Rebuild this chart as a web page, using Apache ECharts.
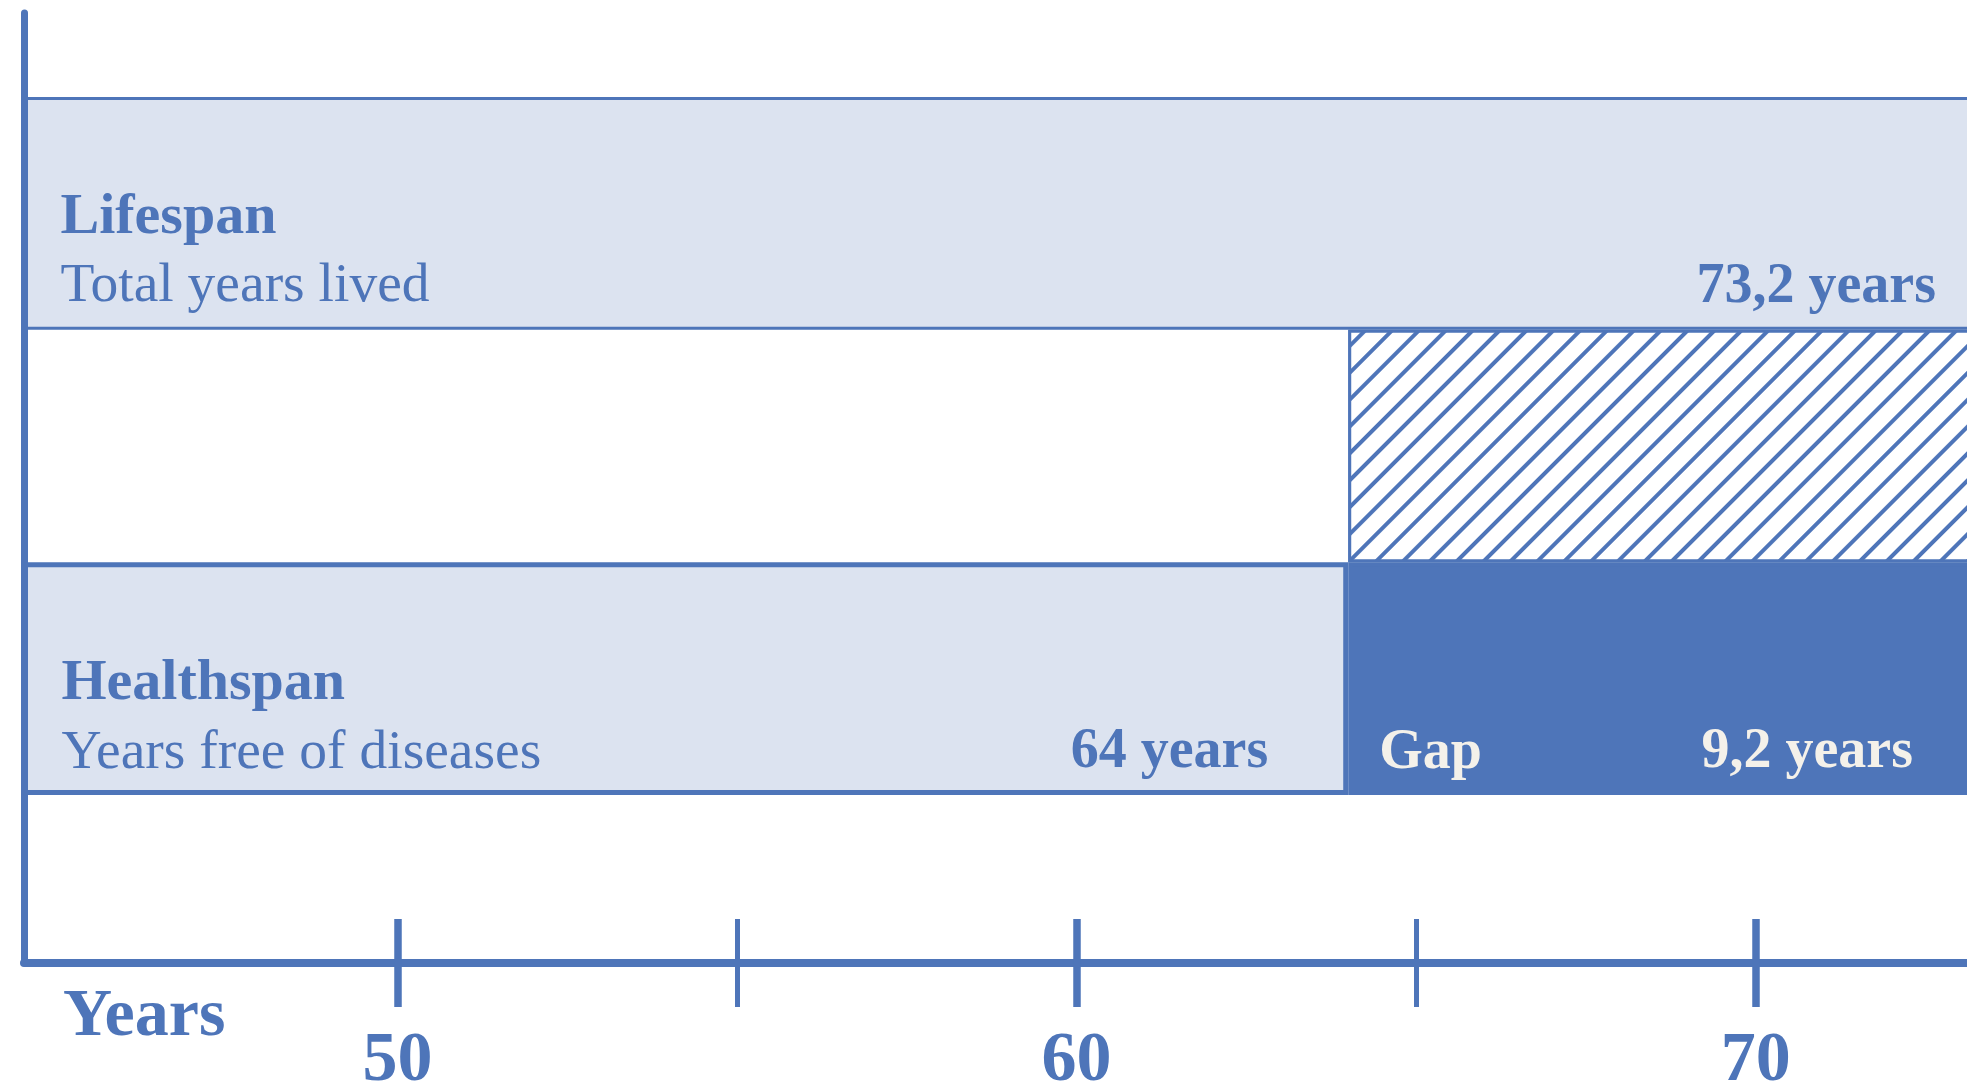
<!DOCTYPE html>
<html>
<head>
<meta charset="utf-8">
<script src="https://cdn.jsdelivr.net/npm/echarts@6/dist/echarts.min.js"></script>
<style>
html,body{margin:0;padding:0;background:#fff;}
#chart{width:1967px;height:1086px;}
</style>
</head>
<body>
<div id="chart"></div>
<script>
// ---- data ----
const categories = ['Healthspan', 'Gap', 'Lifespan'];
const healthspanValues = [64, '-', '-'];
const gapValues = [9.2, '-', '-'];
const hatchBaseValues = ['-', 64, '-'];
const hatchValues = ['-', 9.2, '-'];
const lifespanValues = ['-', '-', 73.2];
const majorTicks = [50, 60, 70];
const minorTicks = [55, 65];
const axisMin = 44.5;
const axisMax = 73.2;
const rowTitles = { Healthspan: 'Healthspan', Lifespan: 'Lifespan' };
const rowSubtitles = { Healthspan: 'Years free of diseases', Lifespan: 'Total years lived' };
const gapTitle = 'Gap';
const axisName = 'Years';

// ---- style ----
const BLUE = '#4e75b9';
const LIGHT = '#dce3f0';
const CREAM = '#f4f1ea';
const FONT = 'Liberation Serif';

const fmtYears = v => String(v).replace('.', ',') + ' years';

const chart = echarts.init(document.getElementById('chart'), null, { renderer: 'canvas' });

const titleRich = {
  t: { fontFamily: FONT, fontWeight: 'bold', fontSize: 58, color: BLUE, lineHeight: 69 },
  s: { fontFamily: FONT, fontWeight: 'normal', fontSize: 55.5, color: BLUE, lineHeight: 69 }
};
const valueLabel = (color, distance) => ({
  show: true, position: 'insideRight', distance: distance, offset: [0, 74],
  fontFamily: FONT, fontWeight: 'bold', fontSize: 56, color: color,
  formatter: p => fmtYears(p.value)
});

const commonBar = { xAxisIndex: 0, yAxisIndex: 0, barCategoryGap: 0, barGap: '-100%' };

const tickAxis = (values, inside, width, extra) => Object.assign({
  type: 'value', gridIndex: 1, min: axisMin, max: axisMax, position: 'bottom', z: 10,
  axisLine: { show: false, onZero: false },
  axisTick: { show: true, inside: inside, length: 44, customValues: values,
              lineStyle: { color: BLUE, width: width } },
  axisLabel: { show: false },
  splitLine: { show: false }
}, extra || {});

const option = {
  animation: false,
  backgroundColor: '#ffffff',
  grid: [
    { left: 24, right: -6, top: 97, height: 698, containLabel: false, outerBoundsMode: 'none' },
    { left: 24, right: -6, top: 13, bottom: 123, containLabel: false, outerBoundsMode: 'none' }
  ],
  xAxis: [
    { type: 'value', gridIndex: 0, min: axisMin, max: axisMax, show: false },
    tickAxis(majorTicks, false, 7.5, {
      axisLine: { show: true, onZero: false, lineStyle: { color: BLUE, width: 8 } },
      axisLabel: { show: true, customValues: majorTicks, margin: 64,
                   fontFamily: FONT, fontWeight: 'bold', fontSize: 70, color: BLUE },
      name: axisName, nameLocation: 'start', nameGap: -39,
      nameTextStyle: { fontFamily: FONT, fontWeight: 'bold', fontSize: 68, color: BLUE,
                       align: 'left', verticalAlign: 'top', padding: [20, 0, 0, 0] }
    }),
    tickAxis(majorTicks, true, 7.5),
    tickAxis(minorTicks, false, 5),
    tickAxis(minorTicks, true, 5)
  ],
  yAxis: [
    { type: 'category', gridIndex: 0, data: categories, show: false },
    { type: 'value', gridIndex: 1, min: 0, max: 1, z: 10,
      axisLine: { show: true, onZero: false, lineStyle: { color: BLUE, width: 7 } },
      axisTick: { show: false }, axisLabel: { show: false }, splitLine: { show: false } }
  ],
  series: [
    Object.assign({}, commonBar, {
      name: 'Healthspan', type: 'bar', stack: 'rows', data: healthspanValues,
      itemStyle: { color: LIGHT, borderColor: BLUE, borderWidth: 5 },
      label: { show: true, position: 'insideLeft', distance: 40, offset: [0, 40],
               formatter: p => '{t|' + rowTitles[p.name] + '}\n{s|' + rowSubtitles[p.name] + '}',
               rich: titleRich }
    }),
    Object.assign({}, commonBar, {
      name: 'Gap', type: 'bar', stack: 'rows', data: gapValues,
      itemStyle: { color: BLUE, borderColor: BLUE, borderWidth: 4 },
      label: { show: true, position: 'insideLeft', distance: 31, offset: [0, 75],
               fontFamily: FONT, fontWeight: 'bold', fontSize: 56, color: CREAM,
               formatter: () => gapTitle }
    }),
    Object.assign({}, commonBar, {
      name: 'hatchBase', type: 'bar', stack: 'rows', data: hatchBaseValues, silent: true,
      itemStyle: { color: 'rgba(0,0,0,0)', borderWidth: 0 }
    }),
    Object.assign({}, commonBar, {
      name: 'Unhealthy years', type: 'bar', stack: 'rows', data: hatchValues,
      itemStyle: { color: '#ffffff', borderColor: BLUE, borderWidth: 3,
        decal: { symbol: 'rect', symbolSize: 1, dashArrayX: [1, 0], dashArrayY: [4, 15],
                 rotation: -Math.PI / 4, color: BLUE, backgroundColor: '#ffffff' } }
    }),
    Object.assign({}, commonBar, {
      name: 'Lifespan', type: 'bar', stack: 'rows', data: lifespanValues,
      itemStyle: { color: LIGHT, borderColor: BLUE, borderWidth: 3 },
      label: { show: true, position: 'insideLeft', distance: 38, offset: [0, 39],
               formatter: p => '{t|' + rowTitles[p.name] + '}\n{s|' + rowSubtitles[p.name] + '}',
               rich: titleRich }
    }),
    // value labels (transparent carriers)
    Object.assign({}, commonBar, {
      name: 'healthLabel', type: 'bar', stack: 'labels', data: healthspanValues, silent: true, z: 5,
      itemStyle: { color: 'rgba(0,0,0,0)' }, label: valueLabel(BLUE, 80)
    }),
    Object.assign({}, commonBar, {
      name: 'gapLabel', type: 'bar', stack: 'labels', data: gapValues, silent: true, z: 5,
      itemStyle: { color: 'rgba(0,0,0,0)' }, label: valueLabel(CREAM, 60)
    }),
    Object.assign({}, commonBar, {
      name: 'lifeLabel', type: 'bar', stack: 'labels', data: lifespanValues, silent: true, z: 5,
      itemStyle: { color: 'rgba(0,0,0,0)' }, label: valueLabel(BLUE, 37)
    })
  ]
};
chart.setOption(option);
</script>
</body>
</html>
